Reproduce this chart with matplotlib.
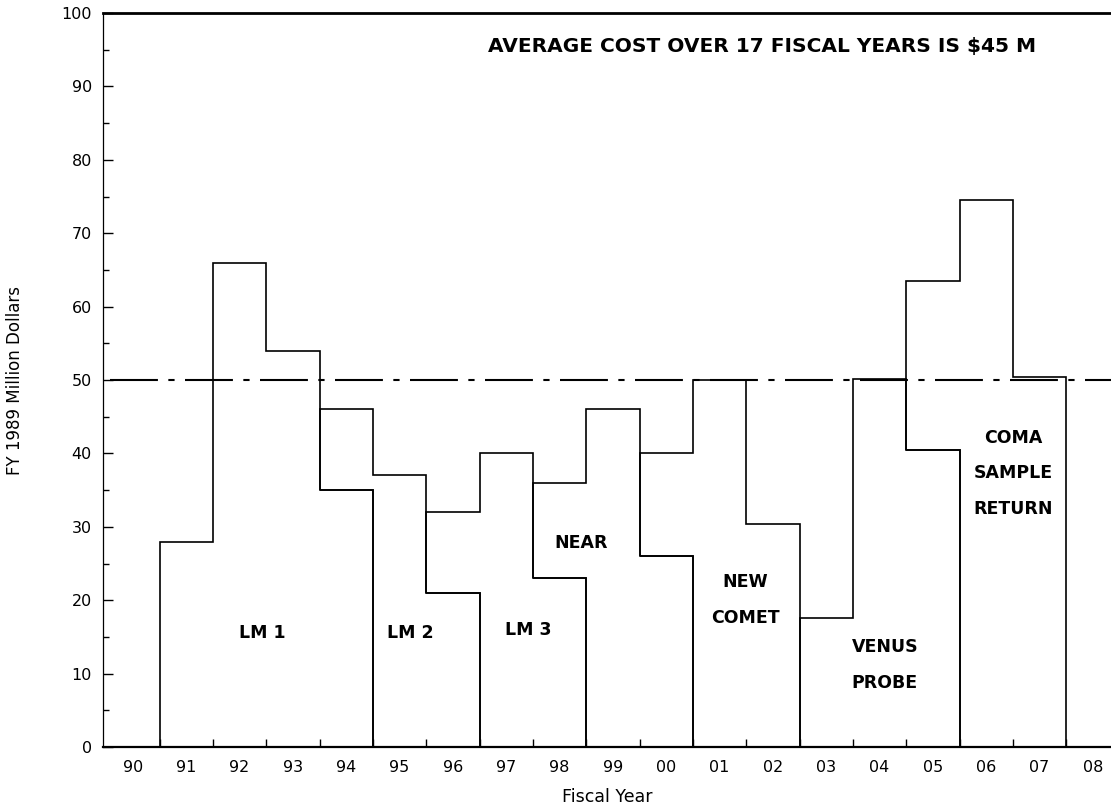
import numpy as np
import matplotlib
matplotlib.use("Agg")
import matplotlib.pyplot as plt

# fiscal years on the x axis
years = ["90", "91", "92", "93", "94", "95", "96", "97", "98", "99",
         "00", "01", "02", "03", "04", "05", "06", "07", "08"]

# yearly cost of each mission, FY 1989 million dollars, stacked in this order
lm1 =       [0, 28, 66, 54, 35, 0, 0, 0, 0, 0, 0, 0, 0, 0, 0, 0, 0, 0, 0]
lm2 =       [0, 0, 0, 0, 11, 37, 21, 0, 0, 0, 0, 0, 0, 0, 0, 0, 0, 0, 0]
lm3 =       [0, 0, 0, 0, 0, 0, 11, 40, 23, 0, 0, 0, 0, 0, 0, 0, 0, 0, 0]
near =      [0, 0, 0, 0, 0, 0, 0, 0, 13, 46, 26, 0, 0, 0, 0, 0, 0, 0, 0]
new_comet = [0, 0, 0, 0, 0, 0, 0, 0, 0, 0, 14, 50, 30.4, 0, 0, 0, 0, 0, 0]
venus =     [0, 0, 0, 0, 0, 0, 0, 0, 0, 0, 0, 0, 0, 17.6, 50.2, 40.5, 0, 0, 0]
coma =      [0, 0, 0, 0, 0, 0, 0, 0, 0, 0, 0, 0, 0, 0, 0, 23, 74.5, 50.4, 0]

missions = [lm1, lm2, lm3, near, new_comet, venus, coma]
mission_names = ["LM 1", "LM 2", "LM 3", "NEAR", "NEW\nCOMET",
                 "VENUS\nPROBE", "COMA\nSAMPLE\nRETURN"]
# label anchor (year index, value) for each mission
label_x = [2.42, 5.21, 7.41, 8.40, 11.48, 14.1, 16.5]
label_y = [15.5, 15.5, 16.0, 27.8, 20.0, 11.2, 37.3]

reference_level = 50
note = "AVERAGE COST OVER 17 FISCAL YEARS IS $45 M"

fig = plt.figure(figsize=(11.11, 8.09), dpi=100)
ax = fig.add_axes([0.0927, 0.0766, 0.9073, 0.9073])

x = np.arange(len(years))
bottom = np.zeros(len(years))
for vals in missions:
    vals = np.asarray(vals, dtype=float)
    top = bottom + vals
    idx = np.nonzero(vals)[0]
    lo, hi = idx[0], idx[-1] + 1
    edges = np.arange(lo, hi + 1) - 0.5
    ax.stairs(top[lo:hi], edges, baseline=bottom[lo:hi], fill=False,
              color="black", lw=1.2, zorder=3)
    bottom = top

ax.plot([-0.43, 18.4], [reference_level, reference_level], color="black",
        lw=1.5, dashes=(23, 5, 3, 5), zorder=2)

for name, lx, ly in zip(mission_names, label_x, label_y):
    ax.text(lx, ly, name, ha="center", va="center", fontsize=12.5,
            fontweight="bold", family="DejaVu Sans", linespacing=2.25,
            zorder=4)

ax.text(11.8, 95.4, note, ha="center", va="center", fontsize=14.5,
        fontweight="bold", family="DejaVu Sans")

ax.set_xlim(-0.56, 18.34)
ax.set_ylim(0, 100)

ax.set_xticks(x)
ax.set_xticklabels(years)
ax.set_xticks(x[:-1] + 0.5, minor=True)
ax.tick_params(axis="x", which="major", length=0, pad=9, labelsize=11.5)
ax.tick_params(axis="x", which="minor", direction="in", length=6, width=1)

ax.set_yticks(np.arange(0, 101, 10))
ax.set_yticks(np.arange(5, 100, 10), minor=True)
ax.tick_params(axis="y", which="major", direction="in", length=7, width=1,
               pad=8, labelsize=11.5)
ax.tick_params(axis="y", which="minor", direction="in", length=4, width=1)

ax.spines["right"].set_visible(False)
ax.spines["top"].set_linewidth(2.0)
ax.spines["bottom"].set_linewidth(1.6)
ax.spines["left"].set_linewidth(0.9)

ax.set_xlabel("Fiscal Year", fontsize=12.5, labelpad=10)
ax.set_ylabel("FY 1989 Million Dollars", fontsize=12, labelpad=27)

fig.savefig("out.png", dpi=100)
